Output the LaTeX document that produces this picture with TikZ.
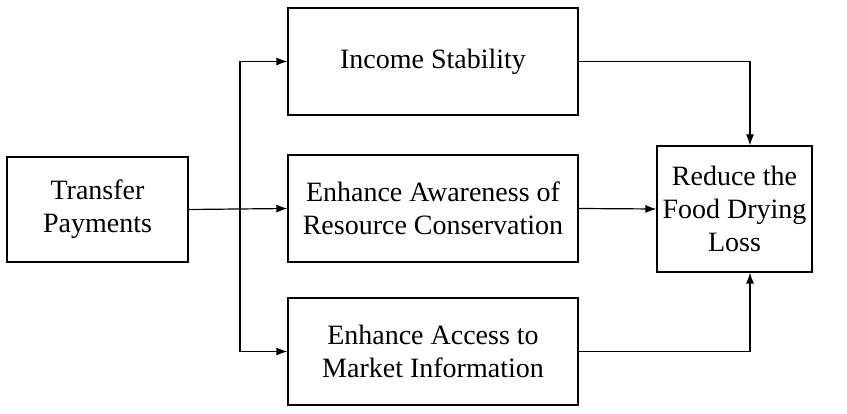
\documentclass[tikz,border=0pt]{standalone}
\usepackage{fontspec}
\setmainfont{Liberation Serif}
\usetikzlibrary{arrows.meta}
\begin{document}
\begin{tikzpicture}[x=1pt,y=-1pt,
  box/.style={draw,line width=1.2pt,align=center,inner sep=0pt,font=\fontsize{28}{33}\selectfont},
  conn/.style={line width=1.2pt,-{Latex[length=11pt,width=8pt]}}]
\useasboundingbox (0,0) rectangle (847,414);
\node[box,minimum width=181,minimum height=105] (tp) at (97.5,209.5) {Transfer\\Payments};
\node[box,minimum width=290,minimum height=107] (is) at (433,61.5) {Income Stability};
\node[box,minimum width=290,minimum height=107] (ea) at (433,208.5) {Enhance Awareness of\\Resource Conservation};
\node[box,minimum width=290,minimum height=107] (ma) at (433,351.5) {Enhance Access to\\Market Information};
\node[box,minimum width=155,minimum height=126] (rd) at (734.5,209) {Reduce the\\Food Drying\\Loss};
\coordinate (br) at (240,209.5);
\draw[conn] (tp.east) -- (ea.west);
\draw[conn] (br) |- (is.west);
\draw[conn] (br) |- (ma.west);
\draw[conn] (is.east) -| (rd.north -| 750,0);
\draw[conn] (ea.east) -- (rd.west);
\draw[conn] (ma.east) -| (rd.south -| 750,0);
\end{tikzpicture}
\end{document}
